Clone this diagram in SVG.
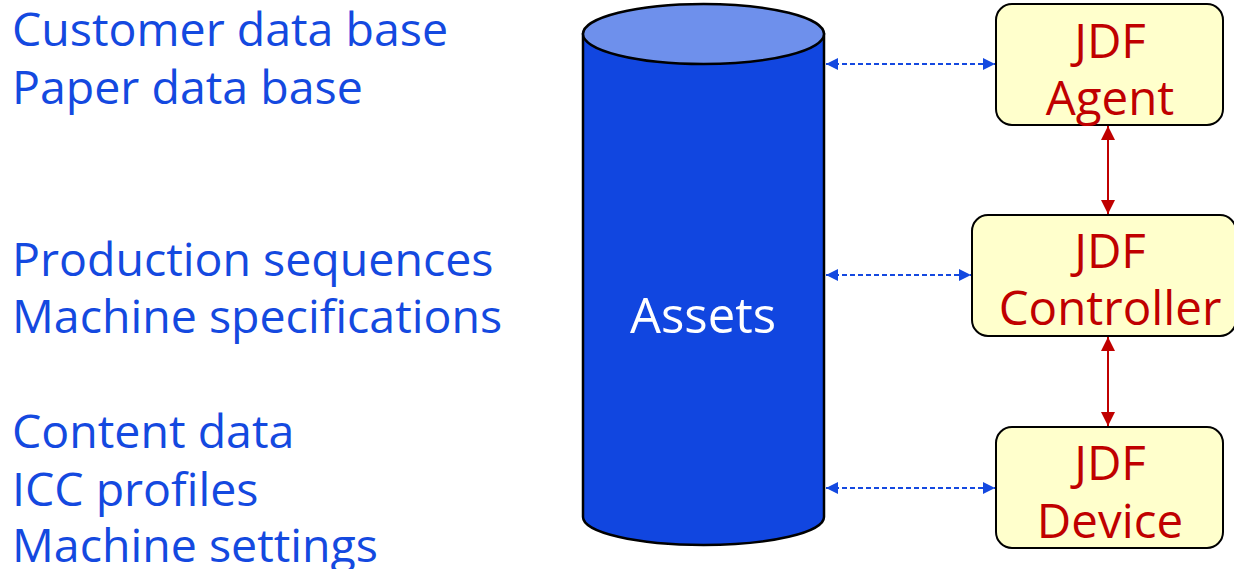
<svg xmlns="http://www.w3.org/2000/svg" width="1234" height="569" viewBox="0 0 1234 569">
  <style>
    .lbl { font-family: "Open Sans", "Noto Sans", "Liberation Sans", sans-serif; font-size: 46.5px; fill: #1449E0; }
    .box { fill: #FFFFCC; stroke: #000; stroke-width: 2; }
    .boxtxt { font-family: "Open Sans", "Noto Sans", "Liberation Sans", sans-serif; font-size: 47.5px; fill: #C00000; text-anchor: middle; }
    .blue { stroke: #1449E0; stroke-width: 2; stroke-dasharray: 5 3; fill: none; }
    .red { stroke: #C00000; stroke-width: 2; fill: none; }
  </style>
  <defs>
    <marker id="bh" viewBox="0 0 10 10" refX="10" refY="5" markerWidth="12" markerHeight="12" markerUnits="userSpaceOnUse" orient="auto-start-reverse">
      <path d="M0,0 L10,5 L0,10 z" fill="#1449E0"/>
    </marker>
    <marker id="rh" viewBox="0 0 10 10" refX="10" refY="5" markerWidth="14" markerHeight="14" markerUnits="userSpaceOnUse" orient="auto-start-reverse">
      <path d="M0,0 L10,5 L0,10 z" fill="#C00000"/>
    </marker>
  </defs>
  <rect width="1234" height="569" fill="#fff"/>

  <g id="asset-list">
    <text class="lbl" x="12" y="46">Customer data base</text>
    <text class="lbl" x="12" y="104">Paper data base</text>
    <text class="lbl" x="12" y="276">Production sequences</text>
    <text class="lbl" x="12" y="333">Machine specifications</text>
    <text class="lbl" x="12" y="448">Content data</text>
    <text class="lbl" x="12" y="506">ICC profiles</text>
    <text class="lbl" x="12" y="562">Machine settings</text>
  </g>

  <g id="assets">
    <path d="M583,34 L583,517 A120.5,28 0 0 0 824,517 L824,34 Z" fill="#1146E0" stroke="#000" stroke-width="2.5"/>
    <ellipse cx="703.5" cy="34" rx="120.5" ry="30" fill="#6E90EC" stroke="#000" stroke-width="2.5"/>
    <text x="703" y="333" font-family="Open Sans, Noto Sans, sans-serif" font-size="49" fill="#fff" text-anchor="middle">Assets</text>
  </g>

  <g id="agent">
    <rect class="box" x="996" y="4" width="227" height="121" rx="16"/>
    <text class="boxtxt" x="1110" y="58">JDF</text>
    <text class="boxtxt" x="1110" y="115">Agent</text>
  </g>
  <g id="controller">
    <rect class="box" x="972" y="215" width="264" height="121" rx="16"/>
    <text class="boxtxt" x="1110" y="268">JDF</text>
    <text class="boxtxt" x="1110" y="325">Controller</text>
  </g>
  <g id="device">
    <rect class="box" x="996" y="427" width="227" height="121" rx="16"/>
    <text class="boxtxt" x="1110" y="480">JDF</text>
    <text class="boxtxt" x="1110" y="538">Device</text>
  </g>

  <g id="connectors">
    <line class="blue" x1="826" y1="64" x2="995" y2="64" marker-start="url(#bh)" marker-end="url(#bh)"/>
    <line class="blue" x1="826" y1="275" x2="971" y2="275" marker-start="url(#bh)" marker-end="url(#bh)"/>
    <line class="blue" x1="826" y1="488" x2="995" y2="488" marker-start="url(#bh)" marker-end="url(#bh)"/>
    <line class="red" x1="1108" y1="126" x2="1108" y2="214" marker-start="url(#rh)" marker-end="url(#rh)"/>
    <line class="red" x1="1108" y1="337" x2="1108" y2="426" marker-start="url(#rh)" marker-end="url(#rh)"/>
  </g>
</svg>
